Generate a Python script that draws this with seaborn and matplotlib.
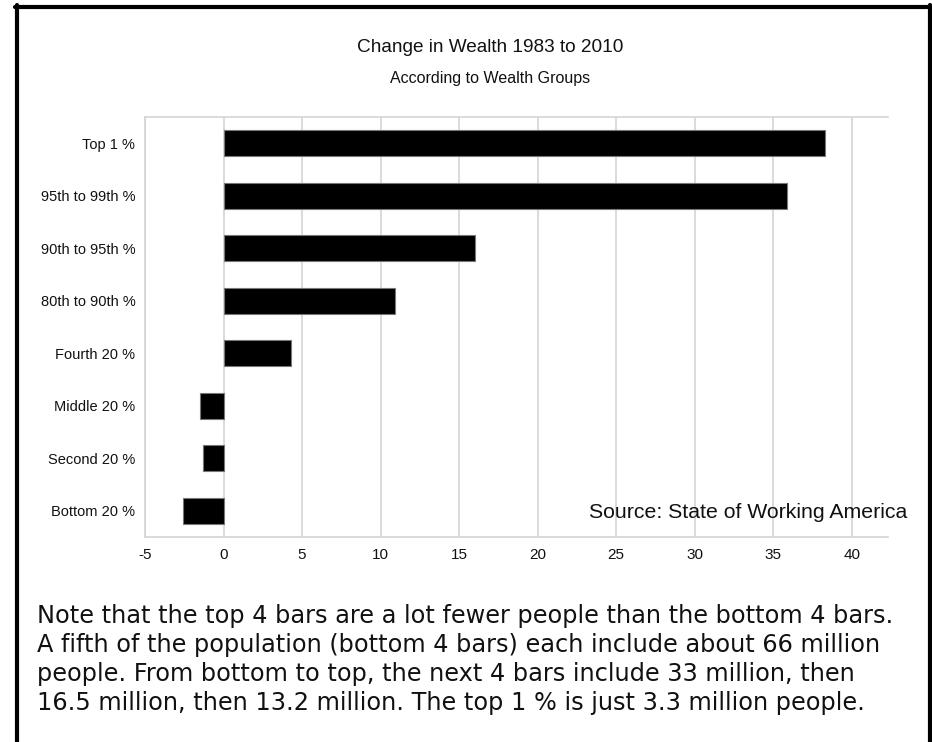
import matplotlib
matplotlib.use("Agg")
import matplotlib.pyplot as plt
import seaborn as sns
import pandas
from matplotlib.lines import Line2D

# data (change in wealth, 1983 to 2010)
groups = ['Top 1 %', '95th to 99th %', '90th to 95th %', '80th to 90th %',
          'Fourth 20 %', 'Middle 20 %', 'Second 20 %', 'Bottom 20 %']
change = [38.3, 35.9, 16.0, 10.9, 4.3, -1.5, -1.3, -2.6]
x_ticks = [-5, 0, 5, 10, 15, 20, 25, 30, 35, 40]

title = 'Change in Wealth 1983 to 2010'
subtitle = 'According to Wealth Groups'
source = 'Source: State of Working America'
note_lines = [
    'Note that the top 4 bars are a lot fewer people than the bottom 4 bars.',
    'A fifth of the population (bottom 4 bars) each include about 66 million',
    'people. From bottom to top, the next 4 bars include 33 million, then',
    '16.5 million, then 13.2 million. The top 1 % is just 3.3 million people.',
]

sns.set_style("white")
plt.rcParams['font.family'] = ['Liberation Sans', 'DejaVu Sans']

W, H = 932, 742
fig = plt.figure(figsize=(W / 100, H / 100), dpi=100)
ax = fig.add_axes([145 / W, 1 - 537 / H, (888 - 145) / W, (537 - 117) / H])

df = pandas.DataFrame({"Group": groups, "Change": change})
sns.barplot(data=df, x="Change", y="Group", orient="h", color="black",
            width=0.5, edgecolor="#777777", linewidth=0.8, ax=ax, zorder=3)

grid_col = '#d4d4d4'
ax.set_xlim(-5, 42.3)
ax.set_ylim(7.5, -0.5)
ax.set_xticks(x_ticks)
ax.set_xticklabels([str(t) for t in x_ticks], fontsize=11, color='#111111')
ax.xaxis.grid(True, color=grid_col, linewidth=1.2, zorder=0)
ax.set_axisbelow(True)
ax.tick_params(axis='x', length=5, width=1.2, color=grid_col, pad=3)

# labels at the bars, small ticks between the groups
ax.tick_params(axis='y', which='major', length=0, pad=7, labelsize=10.5, labelcolor='#111111')
ax.set_yticks([i - 0.5 for i in range(len(groups) + 1)], minor=True)
ax.tick_params(axis='y', which='minor', length=5, width=1.2, color=grid_col)
ax.set_xlabel('')
ax.set_ylabel('')

for side in ['left', 'bottom', 'top']:
    ax.spines[side].set_color(grid_col)
    ax.spines[side].set_linewidth(1.2)
ax.spines['right'].set_visible(False)

fig.text(490 / W, 1 - 47 / H, title, ha='center', va='center', fontsize=13.7, color='#111111')
fig.text(490 / W, 1 - 79 / H, subtitle, ha='center', va='center', fontsize=11.5, color='#111111')
fig.text(589 / W, 1 - 513 / H, source, ha='left', va='center', fontsize=15.3, color='#111111')

# note below the chart
for i, line in enumerate(note_lines):
    fig.text(37 / W, 1 - (623 + 29 * i) / H, line, ha='left', va='baseline',
             fontsize=17.3, family='DejaVu Sans', color='#111111')

# black frame (open at the bottom)
fig.add_artist(Line2D([17 / W, 17 / W], [0, 1 - 5 / H], color='black', linewidth=3, transform=fig.transFigure))
fig.add_artist(Line2D([930 / W, 930 / W], [0, 1 - 5 / H], color='black', linewidth=3, transform=fig.transFigure))
fig.add_artist(Line2D([15 / W, 932 / W], [1 - 7 / H, 1 - 7 / H], color='black', linewidth=3, transform=fig.transFigure))

fig.savefig("out.png", dpi=100)
